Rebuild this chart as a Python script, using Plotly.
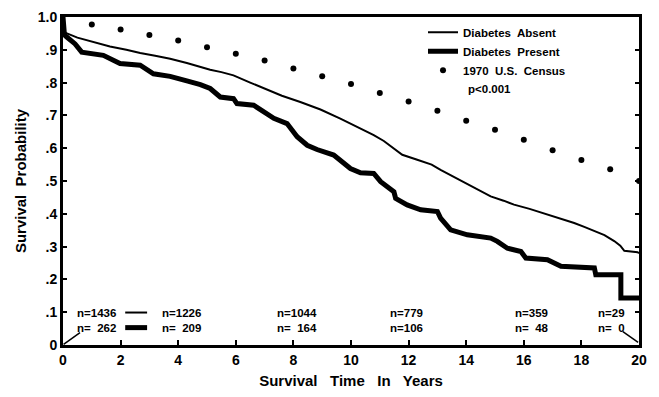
import plotly.graph_objects as go

# ---- data ----
absent_t = [0, 0.05, 0.5, 1.0, 1.63, 2.2, 2.68, 3.2, 3.72, 4.3, 4.77, 5.11, 5.5, 5.92, 6.5, 7.08,
            7.6, 8.24, 8.94, 9.63, 10.2, 10.79, 11.14, 11.55, 11.78, 12.3, 12.8, 13.11, 13.69,
            14.3, 14.85, 15.3, 15.66, 16.2, 16.82, 17.3, 17.75, 18.1, 18.45, 18.8, 19.14, 19.35,
            19.49, 19.95, 20]
absent_v = [1.0, 0.953, 0.937, 0.925, 0.910, 0.900, 0.890, 0.882, 0.873, 0.860, 0.848, 0.839,
            0.832, 0.822, 0.800, 0.778, 0.760, 0.741, 0.718, 0.690, 0.665, 0.640, 0.622, 0.596,
            0.580, 0.565, 0.550, 0.534, 0.507, 0.480, 0.453, 0.440, 0.428, 0.415, 0.398, 0.385,
            0.372, 0.360, 0.347, 0.335, 0.317, 0.303, 0.287, 0.283, 0.280]

present_t = [0, 0.05, 0.13, 0.42, 0.65, 1.4, 1.98, 2.68, 3.14, 3.72, 4.3, 4.77, 5.11, 5.46, 5.92,
             6.04, 6.62, 6.97, 7.32, 7.78, 8.13, 8.48, 8.82, 9.4, 9.98, 10.33, 10.79, 11.03,
             11.49, 11.55, 11.95, 12.42, 13.0, 13.11, 13.46, 14.04, 14.85, 15.08, 15.43, 15.9,
             16.07, 16.82, 17.29, 18.45, 18.5, 19.37, 19.37, 20]
present_v = [1.0, 0.945, 0.939, 0.918, 0.893, 0.883, 0.858, 0.853, 0.827, 0.819, 0.805, 0.794,
             0.782, 0.756, 0.751, 0.736, 0.731, 0.711, 0.691, 0.675, 0.635, 0.609, 0.596, 0.579,
             0.538, 0.525, 0.523, 0.498, 0.467, 0.447, 0.427, 0.412, 0.407, 0.387, 0.351, 0.336,
             0.326, 0.316, 0.295, 0.285, 0.265, 0.260, 0.240, 0.235, 0.214, 0.214, 0.143, 0.143]

census_t = list(range(1, 21))
census_v = [0.977, 0.962, 0.945, 0.928, 0.908, 0.888, 0.867, 0.843, 0.819, 0.796, 0.768, 0.742,
            0.714, 0.684, 0.656, 0.626, 0.594, 0.564, 0.536, 0.500]

n_label_t = [0.42, 3.37, 7.37, 11.27, 15.62, 18.5]
n_absent = ["n=1436", "n=1226", "n=1044", "n=779", "n=359", "n=29"]
n_present = ["n=\u00a0 262", "n=\u00a0 209", "n=\u00a0 164", "n=106", "n=\u00a0 48", "n=\u00a0 0"]

y_ticks = [0, 0.1, 0.2, 0.3, 0.4, 0.5, 0.6, 0.7, 0.8, 0.9, 1.0]
y_ticktext = ["0", ".1", ".2", ".3", ".4", ".5", ".6", ".7", ".8", ".9", "1.0"]
x_ticks = list(range(0, 21, 2))

FONT = "Liberation Sans, Arial, sans-serif"

fig = go.Figure()
fig.add_trace(go.Scatter(x=absent_t, y=absent_v, mode="lines", name="Diabetes\u00a0 Absent",
                         line=dict(color="black", width=2)))
fig.add_trace(go.Scatter(x=present_t, y=present_v, mode="lines", name="Diabetes\u00a0 Present",
                         line=dict(color="black", width=5)))
fig.add_trace(go.Scatter(x=census_t, y=census_v, mode="markers",
                         name="1970\u00a0 U.S.\u00a0 Census",
                         marker=dict(color="black", size=6), cliponaxis=False))

for t, a, p in zip(n_label_t, n_absent, n_present):
    fig.add_annotation(x=t, y=0.099, text=a, showarrow=False, xanchor="left", yanchor="middle",
                       font=dict(family=FONT, size=11.5, color="black", weight="bold"))
    fig.add_annotation(x=t, y=0.053, text=p, showarrow=False, xanchor="left", yanchor="middle",
                       font=dict(family=FONT, size=11.5, color="black", weight="bold"))

# line samples between the first two columns of numbers at risk
fig.add_shape(type="line", x0=2.16, x1=2.92, y0=0.099, y1=0.099, line=dict(color="black", width=2))
fig.add_shape(type="line", x0=2.16, x1=2.92, y0=0.053, y1=0.053, line=dict(color="black", width=5))
# pointer lines
fig.add_shape(type="line", x0=0.02, y0=0.002, x1=0.59, y1=0.038, line=dict(color="black", width=1.5))
fig.add_shape(type="line", x0=19.44, y0=0.041, x1=19.97, y1=0.008, line=dict(color="black", width=1.5))

fig.add_annotation(xref="paper", yref="paper", x=0.70, y=0.78, text="p<0.001", showarrow=False,
                   xanchor="left", yanchor="middle",
                   font=dict(family=FONT, size=11.5, color="black", weight="bold"))

axis_font = dict(family=FONT, size=14, color="black", weight="bold")
title_font = dict(family=FONT, size=15, color="black", weight="bold")
# the page body adds an 8px offset, so the figure is 8px smaller and margins shifted
fig.update_layout(
    width=651, height=389,
    margin=dict(l=55, r=20, t=9, b=52, autoexpand=False),
    plot_bgcolor="white", paper_bgcolor="white",
    showlegend=True,
    legend=dict(x=0.625, y=0.998, xanchor="left", yanchor="top", bgcolor="rgba(0,0,0,0)",
                font=dict(family=FONT, size=11.5, color="black", weight="bold"),
                tracegroupgap=0, itemwidth=30),
    xaxis=dict(range=[0, 20], tickvals=x_ticks, ticks="inside", ticklen=5, tickwidth=2,
               tickcolor="black", showline=True, linewidth=3, linecolor="black", mirror=True,
               showgrid=False, zeroline=False, tickfont=axis_font, automargin=False,
               title=dict(text="Survival\u00a0\u00a0 Time\u00a0\u00a0 In\u00a0\u00a0 Years",
                          font=title_font, standoff=9)),
    yaxis=dict(range=[0, 1], tickvals=y_ticks, ticktext=y_ticktext, ticks="inside", ticklen=4,
               tickwidth=2, tickcolor="black", showline=True, linewidth=3, linecolor="black",
               mirror="ticks", showgrid=False, zeroline=False, tickfont=axis_font, automargin=False,
               title=dict(text="Survival\u00a0 Probability", font=title_font, standoff=8)),
)

fig.write_html("out.html")
